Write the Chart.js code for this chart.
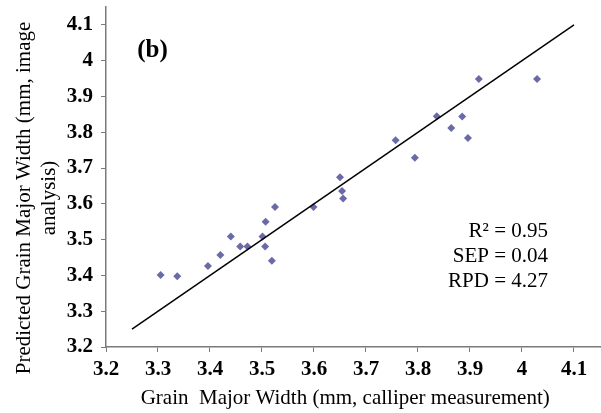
<!DOCTYPE html>
<html>
<head>
<meta charset="utf-8">
<script src="https://cdn.jsdelivr.net/npm/chart.js@4.4.1/dist/chart.umd.min.js"></script>
<style>
  html, body { margin: 0; padding: 0; background: #ffffff; }
  #wrap { width: 601px; height: 413px; position: relative; }
</style>
</head>
<body>
<div id="wrap"><canvas id="c" width="601" height="413"></canvas></div>
<script>
// Measured (calliper) grain major width, mm
const measuredWidth = [3.305, 3.337, 3.396, 3.420, 3.440, 3.458, 3.472, 3.501, 3.507, 3.506, 3.519, 3.525, 3.599, 3.650, 3.654, 3.656, 3.757, 3.794, 3.836, 3.864, 3.885, 3.896, 3.917, 4.029];
// Predicted grain major width (image analysis), mm
const predictedWidth = [3.401, 3.398, 3.426, 3.457, 3.509, 3.481, 3.481, 3.509, 3.550, 3.481, 3.441, 3.591, 3.591, 3.674, 3.636, 3.615, 3.778, 3.729, 3.845, 3.812, 3.844, 3.784, 3.949, 3.949];
// 1:1 line end points
const lineX = [3.25, 4.1];
const lineY = [3.25, 4.1];
// Tick labels
const xTickLabels = ['3.2', '3.3', '3.4', '3.5', '3.6', '3.7', '3.8', '3.9', '4', '4.1'];
const yTickLabels = ['3.2', '3.3', '3.4', '3.5', '3.6', '3.7', '3.8', '3.9', '4', '4.1'];
// Axis titles and annotations
const xTitle = 'Grain  Major Width (mm, calliper measurement)';
const yTitle = ['Predicted Grain Major Width (mm, image', 'analysis)'];
const panelLabel = '(b)';
const statsLines = ['R\u00B2 = 0.95', 'SEP = 0.04', 'RPD = 4.27'];

const pointData = measuredWidth.map((x, i) => ({ x: x, y: predictedWidth[i] }));
const lineData = lineX.map((x, i) => ({ x: x, y: lineY[i] }));

const serif = "'Liberation Serif', 'Times New Roman', serif";
const axisColor = '#7a7a7a';

const annotationPlugin = {
  id: 'annot',
  afterDraw(chart) {
    const ctx = chart.ctx;
    const xs = chart.scales.x, ys = chart.scales.y;
    ctx.save();
    ctx.fillStyle = '#000';
    // panel label
    ctx.font = 'bold 25px ' + serif;
    ctx.textAlign = 'left';
    ctx.textBaseline = 'alphabetic';
    ctx.fillText(panelLabel, xs.getPixelForValue(3.26), ys.getPixelForValue(4.01));
    // statistics block
    ctx.font = '21px ' + serif;
    ctx.textAlign = 'right';
    const rx = xs.getPixelForValue(4.05);
    const baseVals = [3.507, 3.437, 3.367];
    statsLines.forEach((t, i) => {
      ctx.fillText(t, rx, ys.getPixelForValue(baseVals[i]));
    });
    // x axis title
    ctx.font = '21px ' + serif;
    ctx.textAlign = 'center';
    ctx.textBaseline = 'alphabetic';
    ctx.fillText(xTitle, xs.getPixelForValue(3.66), xs.bottom - 9);
    // y axis title (two rotated lines)
    const cy = (ys.top + ys.bottom) / 2 + 21;
    yTitle.forEach((t, i) => {
      ctx.save();
      ctx.translate(30 + i * 25, cy);
      ctx.rotate(-Math.PI / 2);
      ctx.fillText(t, 0, 0);
      ctx.restore();
    });
    ctx.restore();
  }
};

new Chart(document.getElementById('c'), {
  type: 'scatter',
  data: {
    datasets: [
      {
        data: pointData,
        pointStyle: 'rectRot',
        pointRadius: 4,
        pointHoverRadius: 4,
        backgroundColor: '#6a6aa8',
        borderColor: '#6a6aa8',
        borderWidth: 0,
        showLine: false,
        order: 2
      },
      {
        data: lineData,
        showLine: true,
        borderColor: '#000000',
        borderWidth: 1.5,
        pointRadius: 0,
        pointHoverRadius: 0,
        fill: false,
        order: 1
      }
    ]
  },
  options: {
    responsive: false,
    animation: false,
    devicePixelRatio: 1,
    layout: { autoPadding: false, padding: { top: 7, right: 1, left: 0, bottom: 0 } },
    plugins: {
      legend: { display: false },
      tooltip: { enabled: false }
    },
    scales: {
      x: {
        type: 'linear',
        min: 3.2,
        max: 4.15,
        afterBuildTicks(scale) {
          scale.ticks = xTickLabels.map(v => ({ value: parseFloat(v) }));
        },
        afterFit(scale) {
          scale.height = 66;
          scale.paddingLeft = 0;
          scale.paddingRight = 0;
        },
        ticks: {
          autoSkip: false,
          maxRotation: 0,
          color: '#000',
          padding: 5,
          font: { family: serif, size: 21, weight: 'bold' },
          callback: (v, i) => xTickLabels[i]
        },
        grid: {
          drawOnChartArea: false,
          drawTicks: true,
          tickLength: 5,
          color: axisColor
        },
        border: { display: true, color: axisColor, width: 1.5 },
        title: { display: false }
      },
      y: {
        type: 'linear',
        min: 3.2,
        max: 4.15,
        afterBuildTicks(scale) {
          scale.ticks = yTickLabels.map(v => ({ value: parseFloat(v) }));
        },
        afterFit(scale) {
          scale.width = 106;
          scale.paddingTop = 0;
          scale.paddingBottom = 0;
        },
        ticks: {
          autoSkip: false,
          color: '#000',
          padding: 8,
          font: { family: serif, size: 21, weight: 'bold' },
          callback: (v, i) => yTickLabels[i]
        },
        grid: {
          drawOnChartArea: false,
          drawTicks: true,
          tickLength: 5,
          color: axisColor
        },
        border: { display: true, color: axisColor, width: 1.5 },
        title: { display: false }
      }
    }
  },
  plugins: [annotationPlugin]
});
</script>
</body>
</html>
